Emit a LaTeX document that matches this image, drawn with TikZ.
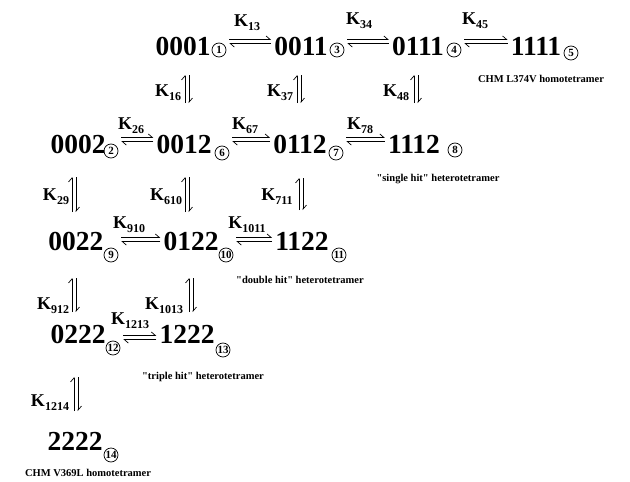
\documentclass[tikz,border=0pt]{standalone}
\usepackage{fontspec}
\setmainfont{Liberation Serif}
\usetikzlibrary{arrows.meta}

% subscript of a rate constant
\newcommand{\ksub}[1]{\raisebox{-4pt}{\fontsize{12}{12}\selectfont #1}}
% horizontal equilibrium between two nodes, at the height of a row coordinate
\newcommand{\eqh}[3]{%
  \draw[harp] ([xshift=3pt,yshift=2pt]#1.east |- #3) -- ([xshift=-3pt,yshift=2pt]#2.west |- #3);
  \draw[harp] ([xshift=-3pt,yshift=-2pt]#2.west |- #3) -- ([xshift=3pt,yshift=-2pt]#1.east |- #3);}
% vertical equilibrium hanging from a coordinate
\newcommand{\eqv}[2]{%
  \draw[harp] ([xshift=-2pt]#1) ++(0,#2) -- ++(0,-#2);
  \draw[harp] ([xshift=2pt]#1) -- ++(0,#2);}

\begin{document}
\begin{tikzpicture}[x=1pt,y=-1pt,
    species/.style={inner sep=0pt,anchor=base,font=\bfseries\fontsize{27.5}{27.5}\selectfont},
    idx/.style={draw,circle,line width=0.7pt,inner sep=0pt,minimum size=14pt,
      font=\bfseries\fontsize{11}{11}\selectfont},
    rate/.style={inner sep=0pt,font=\bfseries\fontsize{18}{18}\selectfont},
    note/.style={inner sep=0pt,font=\bfseries\fontsize{10.5}{10.5}\selectfont},
    harp/.style={line width=0.7pt,-{Straight Barb[harpoon,length=4pt,width=7pt]}}]
  \useasboundingbox (0,0) rectangle (630,482);

  % species
  \node[species] (s1) at (183,55) {0001};
  \node[species] (s3) at (301,55) {0011};
  \node[species] (s4) at (418,55) {0111};
  \node[species] (s5) at (536,55) {1111};
  \node[species] (s2) at (78,153) {0002};
  \node[species] (s6) at (184,153) {0012};
  \node[species] (s7) at (300,153) {0112};
  \node[species] (s8) at (414,153) {1112};
  \node[species] (s9) at (76,250) {0022};
  \node[species] (s10) at (191,250) {0122};
  \node[species] (s11) at (302,250) {1122};
  \node[species] (s12) at (78,343) {0222};
  \node[species] (s13) at (187,343) {1222};
  \node[species] (s14) at (75,450) {2222};

  % circled numbers
  \node[idx] (c1) at (219,50) {1};
  \node[idx] (c3) at (337,50) {3};
  \node[idx] (c4) at (454,50) {4};
  \node[idx] (c5) at (571,53) {5};
  \node[idx] (c2) at (111,151) {2};
  \node[idx] (c6) at (222,153) {6};
  \node[idx] (c7) at (336,153) {7};
  \node[idx] (c8) at (455,150) {8};
  \node[idx] (c9) at (111,255) {9};
  \node[idx] (c10) at (226,255) {10};
  \node[idx] (c11) at (339,255) {11};
  \node[idx] (c12) at (113,348) {12};
  \node[idx] (c13) at (223,350) {13};
  \node[idx] (c14) at (111,455) {14};

  % heights of the horizontal arrows
  \coordinate (h1) at (0,41.5);
  \coordinate (h2) at (0,139.5);
  \coordinate (h3) at (0,239.5);
  \coordinate (h4) at (0,337.5);

  % horizontal equilibria
  \eqh{c1}{s3}{h1}
  \eqh{c3}{s4}{h1}
  \eqh{c4}{s5}{h1}
  \eqh{c2}{s6}{h2}
  \eqh{c6}{s7}{h2}
  \eqh{c7}{s8}{h2}
  \eqh{c9}{s10}{h3}
  \eqh{c10}{s11}{h3}
  \eqh{c12}{s13}{h4}

  % tops of the vertical arrows
  \coordinate (v16) at (187,75);
  \coordinate (v37) at (299,75);
  \coordinate (v48) at (416,75);
  \coordinate (v29) at (74,177);
  \coordinate (v610) at (187,177);
  \coordinate (v711) at (301,178);
  \coordinate (v912) at (74,278);
  \coordinate (v1013) at (191,278);
  \coordinate (v1214) at (76,377);

  % vertical equilibria
  \eqv{v16}{28}
  \eqv{v37}{28}
  \eqv{v48}{28}
  \eqv{v29}{35}
  \eqv{v610}{35}
  \eqv{v711}{32}
  \eqv{v912}{34}
  \eqv{v1013}{34}
  \eqv{v1214}{34}

  % rate constants
  \node[rate] (k13) at (247,23) {K\ksub{13}};
  \node[rate] (k34) at (359,21) {K\ksub{34}};
  \node[rate] (k45) at (475,21) {K\ksub{45}};
  \node[rate] (k26) at (131,126) {K\ksub{26}};
  \node[rate] (k67) at (245,126) {K\ksub{67}};
  \node[rate] (k78) at (360,126) {K\ksub{78}};
  \node[rate] (k910) at (129,225) {K\ksub{910}};
  \node[rate] (k1011) at (247,225) {K\ksub{1011}};
  \node[rate] (k1213) at (130,321) {K\ksub{1213}};
  \node[rate] (k16) at (168,93) {K\ksub{16}};
  \node[rate] (k37) at (280,93) {K\ksub{37}};
  \node[rate] (k48) at (396,93) {K\ksub{48}};
  \node[rate] (k29) at (56,197) {K\ksub{29}};
  \node[rate] (k610) at (166,197) {K\ksub{610}};
  \node[rate] (k711) at (277,197) {K\ksub{711}};
  \node[rate] (k912) at (53,306) {K\ksub{912}};
  \node[rate] (k1013) at (164,306) {K\ksub{1013}};
  \node[rate] (k1214) at (50,403) {K\ksub{1214}};

  % descriptions
  \node[note] (n5) at (541,79) {CHM L374V homotetramer};
  \node[note] (n8) at (438,179) {\textquotedbl single hit\textquotedbl{} heterotetramer};
  \node[note] (n11) at (300,280) {\textquotedbl double hit\textquotedbl{} heterotetramer};
  \node[note] (n13) at (203,377) {\textquotedbl triple hit\textquotedbl{} heterotetramer};
  \node[note] (n14) at (88,473) {CHM V369L homotetramer};
\end{tikzpicture}
\end{document}
